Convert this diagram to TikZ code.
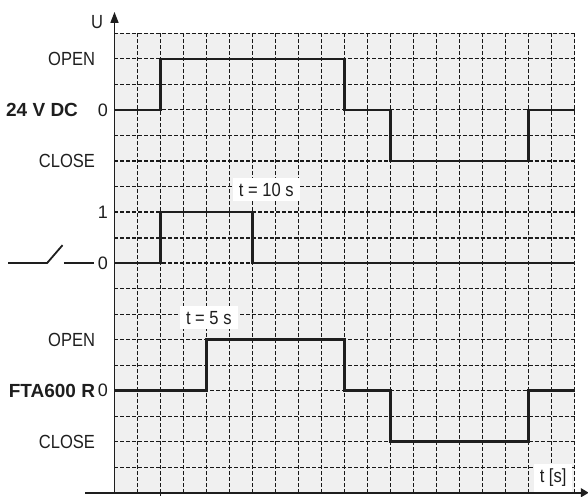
\documentclass[tikz,border=0pt]{standalone}
\usepackage{fontspec}
\setmainfont{Liberation Sans}
\newfontfamily\narrowsans[FakeStretch=0.87]{Liberation Sans}
\usetikzlibrary{arrows.meta}
\definecolor{chartbg}{RGB}{240,240,240}
\definecolor{ink}{RGB}{30,30,30}

\begin{document}
\begin{tikzpicture}[x=11.5pt, y=12.76pt,
  every node/.style={inner sep=1pt, outer sep=0pt, text=ink, font=\narrowsans\fontsize{9.5}{11}\selectfont},
  gridline/.style={dash pattern=on 2pt off 1pt, line width=0.55pt, color=black!90},
  signal/.style={line width=1.25pt, color=ink},
  timebox/.style={fill=white, inner xsep=3pt, inner ysep=2.5pt},
  sidelabel/.style={anchor=east},
  levellabel/.style={font=\fontsize{9}{11}\selectfont},
  boldlabel/.style={anchor=east, font=\fontsize{9.5}{11}\selectfont\bfseries}]
\useasboundingbox (-4.978,-0.129) rectangle (20.587,19.307);

% Grid background
\fill[chartbg] (0,0) rectangle (20,18);
\foreach \i in {1,...,20} \draw[gridline] (\i,0) -- (\i,18);
\foreach \j in {1,...,18} \draw[gridline] (0,\j) -- (20,\j);
\draw[gridline, line width=1pt, color=ink] (0,10) -- (20,10);
\draw[gridline] (2,0) -- (2,-0.13);

% Axes
\draw[line width=0.8pt, color=ink, -{Triangle[length=5.5pt, width=4pt]}] (0,0) -- (0,18.84);
\draw[line width=0.8pt, color=ink, -{Triangle[length=4pt, width=4.5pt]}] (-1.28,0) -- (20.62,0);
\node (U) at (-0.76,18.44) {U};

% Time labels
\node[timebox] (t10) at (6.6,11.88) {t = 10 s};
\node[timebox] (t5) at (4.1,6.86) {t = 5 s};
\node[timebox] (ts) at (19.07,0.58) {t [s]};

% First signal: 24 V DC
\node[sidelabel] (open1) at (-0.76,17) {OPEN};
\node[boldlabel] (dc) at (-1.5,15) {24 V DC};
\node[levellabel] (zero1) at (-0.5,15) {0};
\node[sidelabel] (close1) at (-0.76,13) {CLOSE};
\draw[signal] (0,15) -- (2,15) -- (2,17) -- (10,17) -- (10,15) -- (12,15)
  -- (12,13) -- (18,13) -- (18,15) -- (20,15);

% Second signal: switch
\node[levellabel] (one) at (-0.5,11) {1};
\node[levellabel] (zero2) at (-0.5,9) {0};
\draw[line width=0.9pt, color=ink] (-4.63,9) -- (-2.93,9) -- (-2.26,9.7);
\draw[line width=0.9pt, color=ink] (-2.2,9) -- (-0.88,9);
\draw[signal] (0,9) -- (2,9) -- (2,11) -- (6,11) -- (6,9) -- (20,9);

% Third signal: FTA600 R
\node[sidelabel] (open2) at (-0.76,6) {OPEN};
\node[boldlabel] (fta) at (-0.76,4) {FTA600 R};
\node[levellabel] (zero3) at (-0.5,4) {0};
\node[sidelabel] (close2) at (-0.76,2) {CLOSE};
\draw[signal] (0,4) -- (4,4) -- (4,6) -- (10,6) -- (10,4) -- (12,4)
  -- (12,2) -- (18,2) -- (18,4) -- (20,4);
\end{tikzpicture}
\end{document}
